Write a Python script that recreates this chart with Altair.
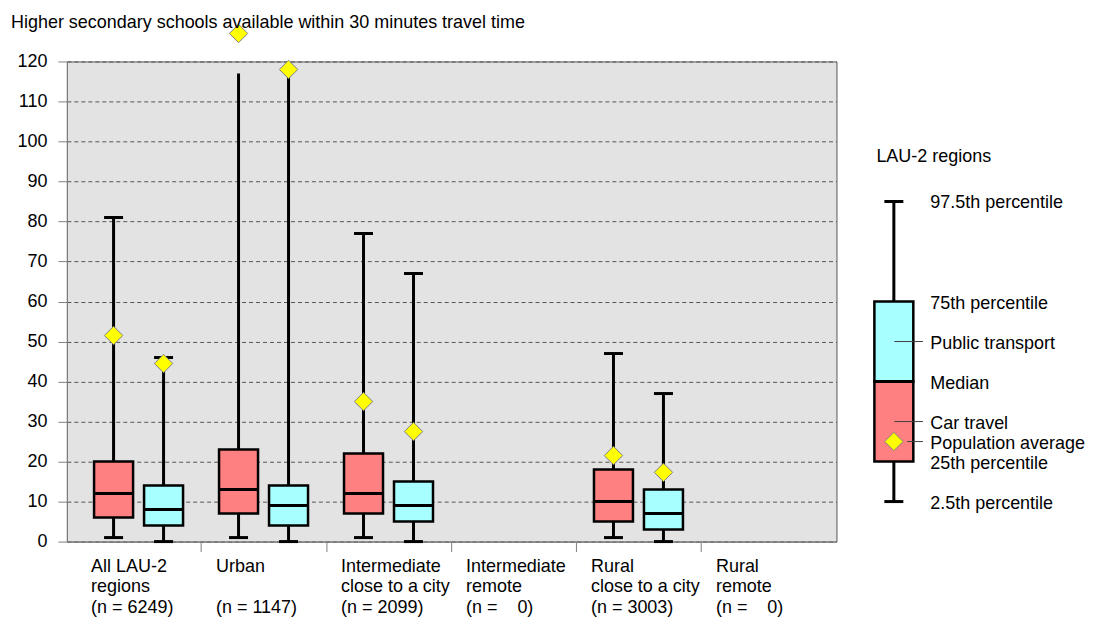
import altair as alt
import pandas as pd

# ---------------- data ----------------
NB = "\u00a0"
group_label_lines = [
    ["All LAU-2", "regions", "(n = 6249)"],
    ["Urban", "", "(n = 1147)"],
    ["Intermediate", "close to a city", "(n = 2099)"],
    ["Intermediate", "remote", "(n =" + NB * 4 + "0)"],
    ["Rural", "close to a city", "(n = 3003)"],
    ["Rural", "remote", "(n =" + NB * 4 + "0)"],
]

box_group = [0, 1, 2, 4]
car_p025 = [1, 1, 1, 1]
car_p25 = [6, 7, 7, 5]
car_median = [12, 13, 12, 10]
car_p75 = [20, 23, 22, 18]
car_p975 = [81, 117, 77, 47]
car_mean = [51.5, 127, 35, 21.5]

pt_p025 = [0, 0, 0, 0]
pt_p25 = [4, 4, 5, 3]
pt_median = [8, 9, 9, 7]
pt_p75 = [14, 14, 15, 13]
pt_p975 = [46, 118, 67, 37]
pt_mean = [44.5, 118, 27.5, 17.3]

top_cap = [True, False, True, True]

modes = ["Car travel", "Public transport"]
mode_colors = ["#ff8080", "#a8ffff"]

y_ticks = list(range(0, 121, 10))
x_group_ticks = [1, 2, 3, 4, 5]

legend_title = "LAU-2 regions"
legend_p025, legend_p25, legend_median, legend_p75, legend_p975 = 10, 20, 40, 60, 85
legend_mean = 25
legend_labels = ["97.5th percentile", "75th percentile", "Public transport", "Median",
                 "Car travel", "Population average", "25th percentile", "2.5th percentile"]
legend_label_values = [85, 60, 50, 40, 30, 25, 20, 10]

# ---------------- tables ----------------
rows = []
for k, g in enumerate(box_group):
    rows.append(dict(mode=modes[0], g=g, off=0.3, p025=car_p025[k], p25=car_p25[k],
                     median=car_median[k], p75=car_p75[k], p975=car_p975[k],
                     mean=car_mean[k], cap=top_cap[k]))
    rows.append(dict(mode=modes[1], g=g, off=0.7, p025=pt_p025[k], p25=pt_p25[k],
                     median=pt_median[k], p75=pt_p75[k], p975=pt_p975[k],
                     mean=pt_mean[k], cap=top_cap[k]))
box_df = pd.DataFrame(rows)

label_rows = []
for g, lines in enumerate(group_label_lines):
    for i, t in enumerate(lines):
        if t:
            label_rows.append(dict(g=g, line=i, label=t))
label_df = pd.DataFrame(label_rows)

FONT = "Liberation Sans"
BOX_HALF = 0.156
CAP_HALF = 0.076

x_scale = alt.Scale(domain=[-0.0735, 6.0843], nice=False, zero=False)
y_scale = alt.Scale(domain=[0, 120], nice=False, zero=False)
x_axis = alt.Axis(values=x_group_ticks, labels=False, title=None, grid=False,
                  tickSize=10, tickColor="#808080", domainColor="#808080")
y_axis = alt.Axis(values=y_ticks, title=None, grid=True, gridDash=[4, 3],
                  gridColor="#555555", gridWidth=1, tickSize=9, tickColor="#808080",
                  domainColor="#808080", labelFontSize=18, labelFont=FONT,
                  labelColor="black", labelPadding=11)


def X(field):
    return alt.X(field, type="quantitative", scale=x_scale, axis=x_axis)


def Y(field):
    return alt.Y(field, type="quantitative", scale=y_scale, axis=y_axis)


base = alt.Chart(box_df).transform_calculate(
    pos="datum.g + datum.off",
    lo="datum.g + datum.off - %f" % BOX_HALF,
    hi="datum.g + datum.off + %f" % BOX_HALF,
    clo="datum.g + datum.off - %f" % CAP_HALF,
    chi="datum.g + datum.off + %f" % CAP_HALF,
)

whisker = base.mark_rule(color="black", strokeWidth=3).encode(
    x=X("pos"), y=Y("p025"), y2="p975:Q")
box = base.mark_rect(stroke="black", strokeWidth=2.5).encode(
    x=X("lo"), x2="hi:Q", y=Y("p25"), y2="p75:Q",
    fill=alt.Fill("mode:N", scale=alt.Scale(domain=modes, range=mode_colors), legend=None))
median = base.mark_rule(color="black", strokeWidth=3).encode(
    x=X("lo"), x2="hi:Q", y=Y("median"))
cap_low = base.mark_rule(color="black", strokeWidth=3).encode(
    x=X("clo"), x2="chi:Q", y=Y("p025"))
cap_high = base.transform_filter("datum.cap").mark_rule(color="black", strokeWidth=3).encode(
    x=X("clo"), x2="chi:Q", y=Y("p975"))
mean_pt = base.mark_point(shape="diamond", filled=True, fill="#ffff00", stroke="#808080",
                          strokeWidth=1, size=340, opacity=1).encode(
    x=X("pos"), y=Y("mean"))

xlabels = alt.Chart(label_df).transform_calculate(
    lx="datum.g + 0.12",
    ly="-7.6 - datum.line * 5.115",
).mark_text(align="left", baseline="alphabetic", fontSize=18, font=FONT,
            color="black").encode(
    x=X("lx"), y=Y("ly"), text="label:N")

main = alt.layer(whisker, box, median, cap_low, cap_high, mean_pt, xlabels).properties(
    width=771, height=481,
    title=alt.TitleParams(
        text="Higher secondary schools available within 30 minutes travel time",
        anchor="start", frame="group", dx=-56, offset=-9.5, fontSize=18,
        fontWeight="normal", font=FONT, color="black"),
    view=alt.ViewBackground(fill="#e3e3e3", stroke="#555555", strokeWidth=1),
)

# ---------------- legend panel ----------------
lx_scale = alt.Scale(domain=[0, 241], nice=False, zero=False)
ly_scale = alt.Scale(domain=[0, 120], nice=False, zero=False)
LC = 56.5


def LX(v):
    return alt.XDatum(v, type="quantitative", scale=lx_scale, axis=None)


def LY(v):
    return alt.YDatum(v, type="quantitative", scale=ly_scale, axis=None)


one = alt.Chart(pd.DataFrame({"k": [0]}))
leg_whisker = one.mark_rule(color="black", strokeWidth=3).encode(
    x=LX(LC), y=LY(legend_p025), y2=alt.datum(legend_p975))
leg_caps = [one.mark_rule(color="black", strokeWidth=3).encode(
    x=LX(LC - 9.5), x2=alt.datum(LC + 9.5), y=LY(v)) for v in (legend_p025, legend_p975)]
leg_pt = one.mark_rect(fill=mode_colors[1], stroke="black", strokeWidth=2.5).encode(
    x=LX(LC - 19.5), x2=alt.datum(LC + 19.5), y=LY(legend_median), y2=alt.datum(legend_p75))
leg_car = one.mark_rect(fill=mode_colors[0], stroke="black", strokeWidth=2.5).encode(
    x=LX(LC - 19.5), x2=alt.datum(LC + 19.5), y=LY(legend_p25), y2=alt.datum(legend_median))
leg_med = one.mark_rule(color="black", strokeWidth=3).encode(
    x=LX(LC - 19.5), x2=alt.datum(LC + 19.5), y=LY(legend_median))
leg_ptr1 = one.mark_rule(color="#404040", strokeWidth=1).encode(
    x=LX(LC + 0.5), x2=alt.datum(85.7), y=LY(50))
leg_ptr2 = one.mark_rule(color="#404040", strokeWidth=1).encode(
    x=LX(LC + 0.5), x2=alt.datum(85.7), y=LY(30))
leg_ptr3 = one.mark_rule(color="#404040", strokeWidth=1).encode(
    x=LX(69.7), x2=alt.datum(85.7), y=LY(legend_mean))
leg_diamond = one.mark_point(shape="diamond", filled=True, fill="#ffff00", stroke="#808080",
                             strokeWidth=1, size=340, opacity=1).encode(
    x=LX(LC), y=LY(legend_mean))
leg_text_df = pd.DataFrame({"label": legend_labels, "v": legend_label_values})
leg_text = alt.Chart(leg_text_df).mark_text(
    align="left", baseline="middle", fontSize=18, font=FONT, color="black", dy=2).encode(
    x=LX(93), y=alt.Y("v:Q", scale=ly_scale, axis=None), text="label:N")
leg_head = one.mark_text(align="left", baseline="middle", fontSize=18, font=FONT,
                         color="black", text=legend_title).encode(
    x=LX(39), y=LY(96))

legend_panel = alt.layer(leg_whisker, *leg_caps, leg_pt, leg_car, leg_med,
                         leg_ptr1, leg_ptr2, leg_ptr3, leg_diamond, leg_text, leg_head).properties(
    width=241, height=481,
    view=alt.ViewBackground(stroke="transparent", strokeWidth=0),
)

chart = alt.hconcat(main, legend_panel, spacing=0).resolve_scale(
    x="independent", y="independent"
).properties(
    padding={"left": 2, "top": 4, "right": 0, "bottom": 0},
    background="white",
).configure(font=FONT).configure_view(strokeWidth=0)

chart.save("out.html", embed_options={"renderer": "svg", "actions": False})
